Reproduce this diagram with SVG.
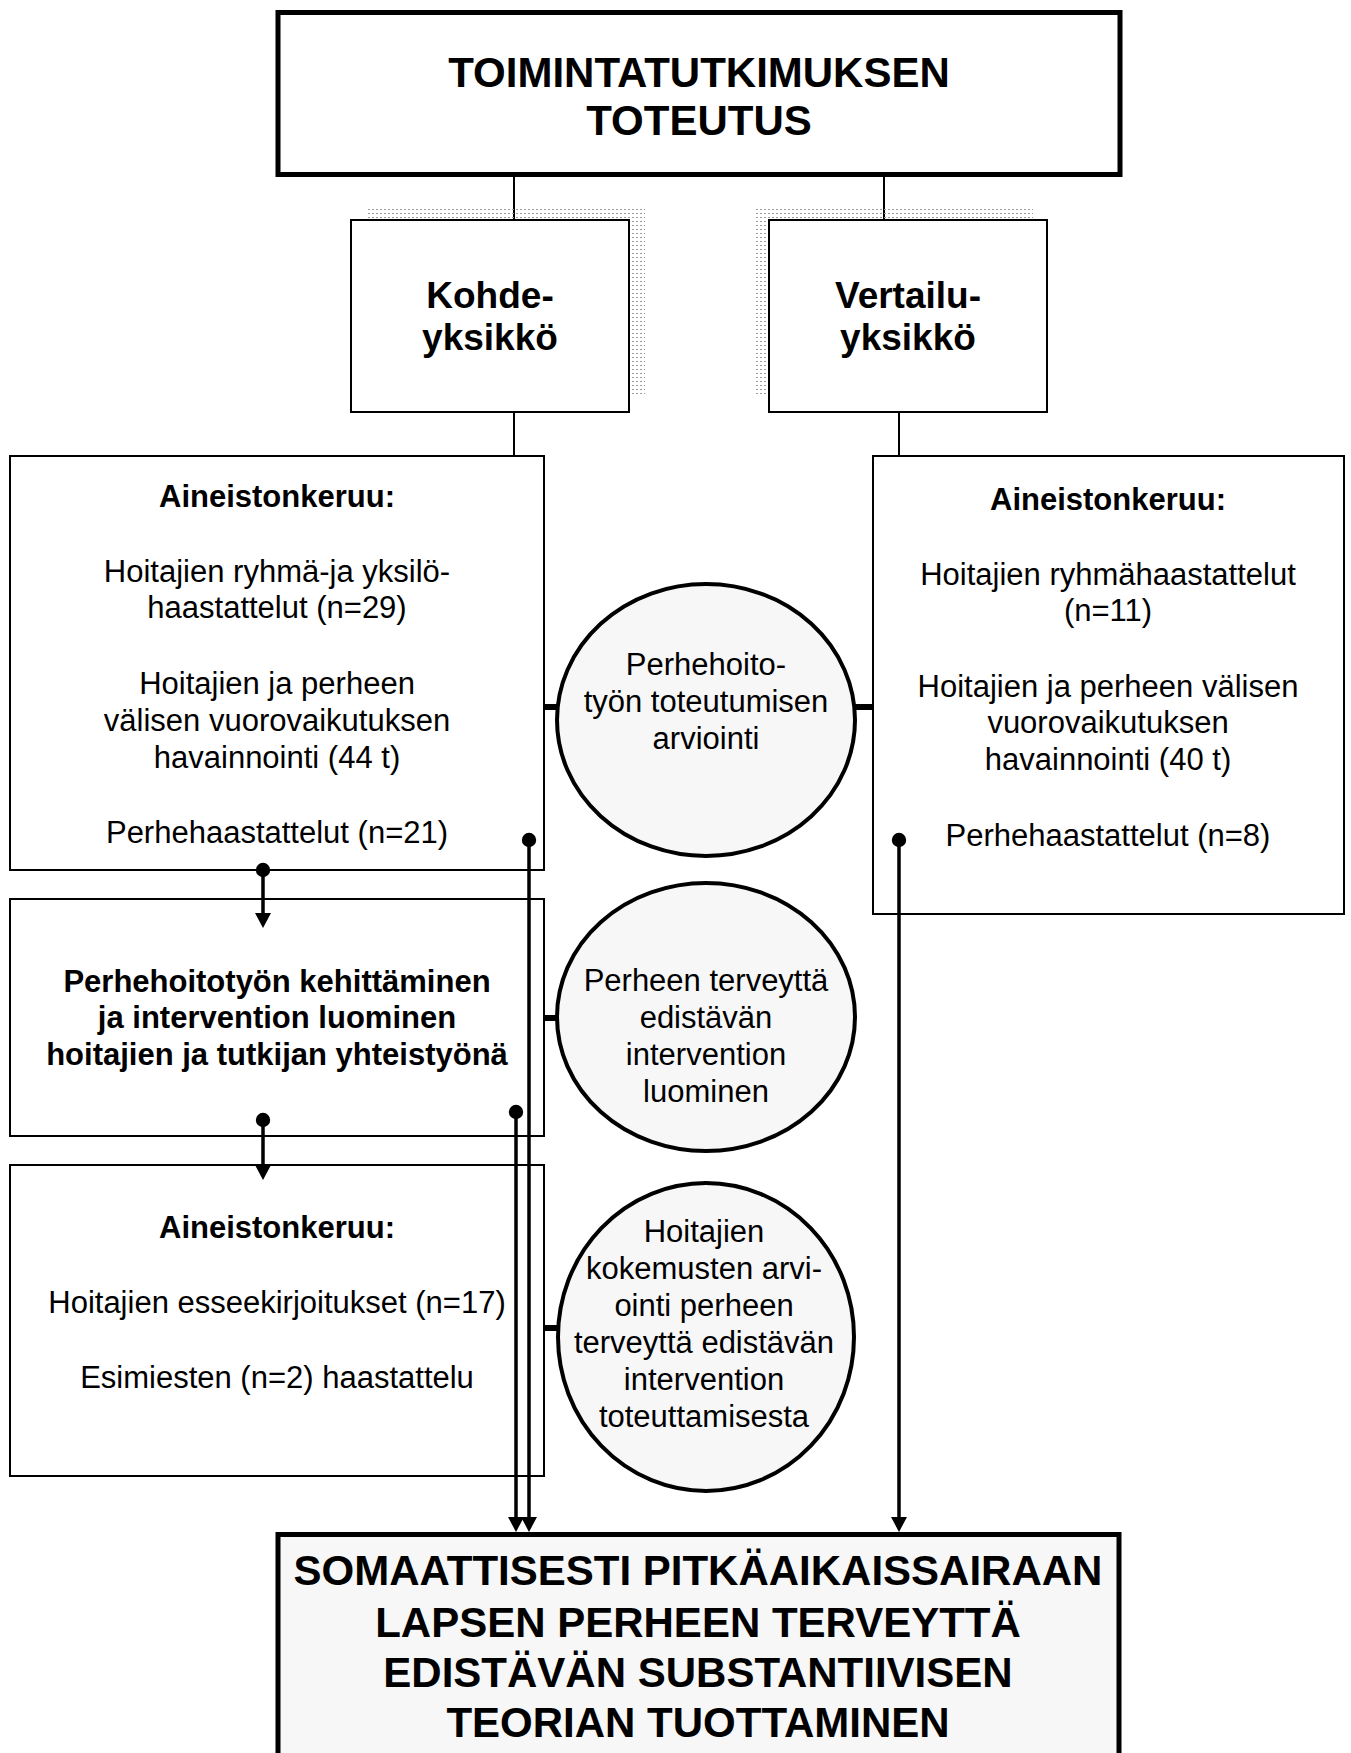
<svg xmlns="http://www.w3.org/2000/svg" width="1351" height="1753" viewBox="0 0 1351 1753">
  <style>
    text { font-family: "Liberation Sans", Arial, sans-serif; fill: #000; text-anchor: middle; }
    .t31 { font-size: 31px; }
    .b31 { font-size: 31px; font-weight: bold; }
    .b37 { font-size: 37px; font-weight: bold; }
    .b42 { font-size: 42px; font-weight: bold; }
    .box { fill: #fff; stroke: #000; stroke-width: 2; }
    .heavy { fill: #fff; stroke: #000; stroke-width: 5; }
    .result { fill: #f7f7f7; stroke: #000; stroke-width: 5; }
    .oval { fill: #f7f7f7; stroke: #000; stroke-width: 4; }
    .shadow { fill: url(#dots); }
    .link { fill: none; stroke: #000; stroke-width: 2; }
    .flow { fill: none; stroke: #000; stroke-width: 3.5; }
    .stub { fill: none; stroke: #000; stroke-width: 6; }
  </style>
  <defs>
    <pattern id="dots" width="4" height="4" patternUnits="userSpaceOnUse">
      <rect x="0" y="1" width="2" height="1" fill="#9a9a9a"/>
    </pattern>
    <marker id="arrow" markerUnits="userSpaceOnUse" markerWidth="16" markerHeight="16" refX="4" refY="8" orient="auto" viewBox="0 0 16 16">
      <path d="M0,0 L15,8 L0,16 z" fill="#000"/>
    </marker>
    <marker id="dot" markerUnits="userSpaceOnUse" markerWidth="16" markerHeight="16" refX="8" refY="8" viewBox="0 0 16 16">
      <circle cx="8" cy="8" r="7.2" fill="#000"/>
    </marker>
  </defs>

  <rect width="1351" height="1753" fill="#fff"/>

  <!-- tree links between the heading and the units -->
  <g id="connectors">
    <line class="link" x1="514" y1="176" x2="514" y2="220"/>
    <line class="link" x1="884" y1="176" x2="884" y2="220"/>
    <line class="link" x1="514" y1="412" x2="514" y2="456"/>
    <line class="link" x1="899" y1="412" x2="899" y2="456"/>
  </g>

  <!-- top heading -->
  <g id="heading">
    <rect class="heavy" x="278" y="12.5" width="842" height="162"/>
    <text class="b42" x="699" y="87">TOIMINTATUTKIMUKSEN</text>
    <text class="b42" x="699" y="135">TOTEUTUS</text>
  </g>

  <!-- study units -->
  <g id="kohdeyksikko">
    <rect class="shadow" x="367" y="207" width="278" height="188"/>
    <rect class="box" x="351" y="220" width="278" height="192"/>
    <text class="b37" x="490" y="308">Kohde-</text>
    <text class="b37" x="490" y="350">yksikkö</text>
  </g>
  <g id="vertailuyksikko">
    <rect class="shadow" x="755" y="207" width="278" height="188"/>
    <rect class="box" x="769" y="220" width="278" height="192"/>
    <text class="b37" x="908" y="308">Vertailu-</text>
    <text class="b37" x="908" y="350">yksikkö</text>
  </g>

  <!-- left column -->
  <g id="keruu-kohde">
    <rect class="box" x="10" y="456" width="534" height="414"/>
    <text class="b31" x="277" y="507">Aineistonkeruu:</text>
    <text class="t31" x="277" y="582">Hoitajien ryhmä-ja yksilö-</text>
    <text class="t31" x="277" y="618">haastattelut (n=29)</text>
    <text class="t31" x="277" y="694">Hoitajien ja perheen</text>
    <text class="t31" x="277" y="731">välisen vuorovaikutuksen</text>
    <text class="t31" x="277" y="768">havainnointi (44 t)</text>
    <text class="t31" x="277" y="843">Perhehaastattelut (n=21)</text>
  </g>
  <g id="kehittaminen">
    <rect class="box" x="10" y="899" width="534" height="237"/>
    <text class="b31" x="277" y="992">Perhehoitotyön kehittäminen</text>
    <text class="b31" x="277" y="1028">ja intervention luominen</text>
    <text class="b31" x="277" y="1065">hoitajien ja tutkijan yhteistyönä</text>
  </g>
  <g id="keruu-jalkeen">
    <rect class="box" x="10" y="1165" width="534" height="311"/>
    <text class="b31" x="277" y="1238">Aineistonkeruu:</text>
    <text class="t31" x="277" y="1313">Hoitajien esseekirjoitukset (n=17)</text>
    <text class="t31" x="277" y="1388">Esimiesten (n=2) haastattelu</text>
  </g>

  <!-- right column -->
  <g id="keruu-vertailu">
    <rect class="box" x="873" y="456" width="471" height="458"/>
    <text class="b31" x="1108" y="510">Aineistonkeruu:</text>
    <text class="t31" x="1108" y="585">Hoitajien ryhmähaastattelut</text>
    <text class="t31" x="1108" y="621">(n=11)</text>
    <text class="t31" x="1108" y="697">Hoitajien ja perheen välisen</text>
    <text class="t31" x="1108" y="733">vuorovaikutuksen</text>
    <text class="t31" x="1108" y="770">havainnointi (40 t)</text>
    <text class="t31" x="1108" y="846">Perhehaastattelut (n=8)</text>
  </g>

  <!-- evaluation ovals -->
  <g id="arviointi">
    <line class="stub" x1="544" y1="707" x2="559" y2="707"/>
    <line class="stub" x1="853" y1="707" x2="873" y2="707"/>
    <ellipse class="oval" cx="706" cy="720" rx="149" ry="136"/>
    <text class="t31" x="706" y="675">Perhehoito-</text>
    <text class="t31" x="706" y="712">työn toteutumisen</text>
    <text class="t31" x="706" y="749">arviointi</text>
  </g>
  <g id="luominen">
    <line class="stub" x1="544" y1="1018" x2="560" y2="1018"/>
    <ellipse class="oval" cx="706" cy="1017" rx="149" ry="134"/>
    <text class="t31" x="706" y="991">Perheen terveyttä</text>
    <text class="t31" x="706" y="1028">edistävän</text>
    <text class="t31" x="706" y="1065">intervention</text>
    <text class="t31" x="706" y="1102">luominen</text>
  </g>
  <g id="kokemukset">
    <line class="stub" x1="544" y1="1328" x2="560" y2="1328"/>
    <ellipse class="oval" cx="706" cy="1337" rx="148" ry="154"/>
    <text class="t31" x="704" y="1242">Hoitajien</text>
    <text class="t31" x="704" y="1279">kokemusten arvi-</text>
    <text class="t31" x="704" y="1316">ointi perheen</text>
    <text class="t31" x="704" y="1353">terveyttä edistävän</text>
    <text class="t31" x="704" y="1390">intervention</text>
    <text class="t31" x="704" y="1427">toteuttamisesta</text>
  </g>

  <!-- outcome -->
  <g id="teoria">
    <rect class="result" x="278" y="1534.5" width="841" height="260"/>
    <text class="b42" x="698" y="1585">SOMAATTISESTI PITKÄAIKAISSAIRAAN</text>
    <text class="b42" x="698" y="1637">LAPSEN PERHEEN TERVEYTTÄ</text>
    <text class="b42" x="698" y="1687">EDISTÄVÄN SUBSTANTIIVISEN</text>
    <text class="b42" x="698" y="1737">TEORIAN TUOTTAMINEN</text>
  </g>

  <!-- flow lines drawn over the boxes -->
  <g id="flow">
    <path class="flow" d="M263,870 V917" marker-start="url(#dot)" marker-end="url(#arrow)"/>
    <path class="flow" d="M263,1120 V1169" marker-start="url(#dot)" marker-end="url(#arrow)"/>
    <path class="flow" d="M529,840 V1521" marker-start="url(#dot)" marker-end="url(#arrow)"/>
    <path class="flow" d="M516,1112 V1521" marker-start="url(#dot)" marker-end="url(#arrow)"/>
    <path class="flow" d="M899,840 V1521" marker-start="url(#dot)" marker-end="url(#arrow)"/>
  </g>
</svg>
